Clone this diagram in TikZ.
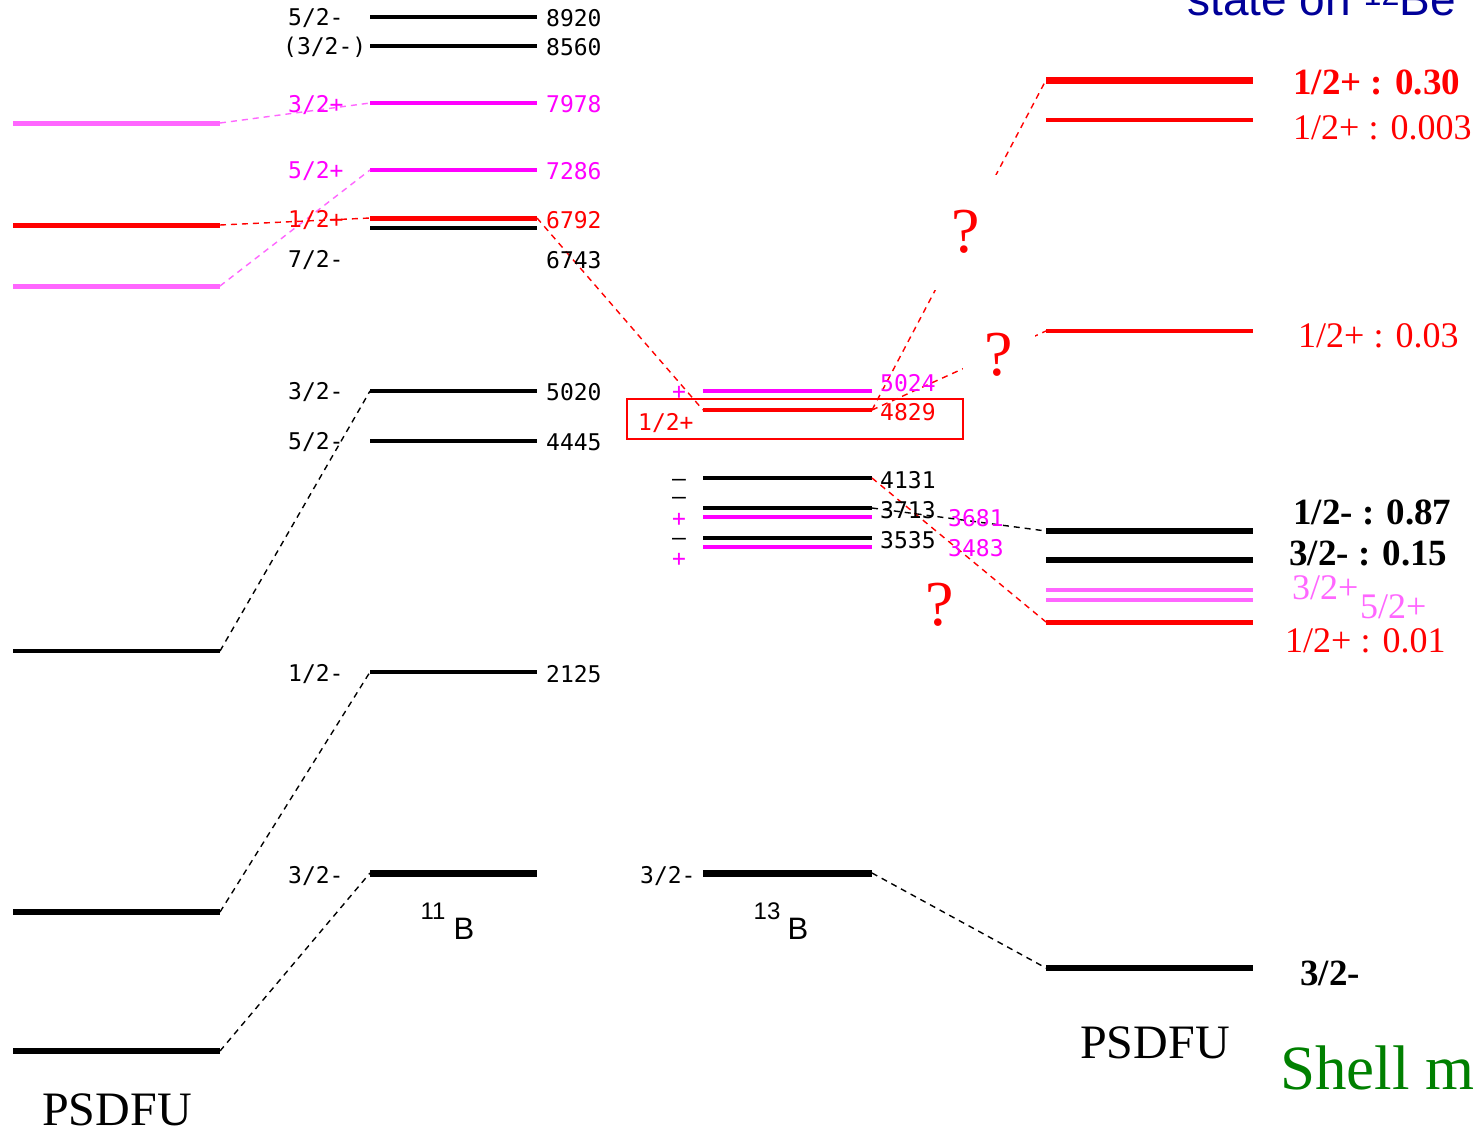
\documentclass[tikz,border=0pt]{standalone}
\usepackage{fontspec}
\setmainfont{Liberation Serif}
\newfontfamily\pixfont{DejaVu Sans Mono}
\newfontfamily\arialfont{Liberation Sans}
\definecolor{lmag}{HTML}{FF66FF}
\definecolor{mag}{HTML}{FF00FF}
\definecolor{navy}{HTML}{000099}
\definecolor{sgreen}{HTML}{008000}
\newcommand\lev[5]{\draw[#5] (#2,#4) coordinate (#1w) -- (#3,#4) coordinate (#1e);}
\begin{document}
\begin{tikzpicture}[x=1pt,y=-1pt,
  lv/.style={line width=4pt},
  conn/.style={line width=1.4pt, dash pattern=on 6pt off 5pt},
  pl/.style={font=\pixfont\fontsize{23}{23}\selectfont, inner sep=0pt},
  plw/.style={pl, anchor=west},
  sgn/.style={pl, text height=13pt, text depth=-1pt},
  tl/.style={font=\fontsize{36}{36}\selectfont, inner sep=0pt, anchor=west},
  tlb/.style={tl, font=\bfseries\fontsize{37}{37}\selectfont},
  qm/.style={font=\fontsize{64}{64}\selectfont, text=red, fill=white, inner sep=0pt},
]
\useasboundingbox (0,0) rectangle (1479,1133);
\clip (0,0) rectangle (1479,1133);
\fill[white] (0,0) rectangle (1479,1133);

% ---------- levels ----------
% left PSDFU column levels
\lev{pa}{13}{220}{123}{lmag,line width=5pt}
\lev{pb}{13}{220}{225}{red,line width=5pt}
\lev{pc}{13}{220}{286}{lmag,line width=5pt}
\lev{pd}{13}{220}{651}{line width=4pt}
\lev{pe}{13}{220}{912}{line width=6pt}
\lev{pf}{13}{220}{1051}{line width=6pt}

% 11B levels
\lev{ba}{370}{537}{17}{lv}
\lev{bb}{370}{537}{46}{lv}
\lev{bc}{370}{537}{103}{lv,mag}
\lev{bd}{370}{537}{170}{lv,mag}
\lev{be}{370}{537}{218}{red,line width=5pt}
\lev{bf}{370}{537}{228}{lv}
\lev{bg}{370}{537}{391}{lv}
\lev{bh}{370}{537}{441}{lv}
\lev{bi}{370}{537}{672}{lv}
\lev{bj}{370}{537}{873}{line width=7pt}

% 13B levels
\lev{ca}{703}{872}{391}{lv,mag}
\lev{cb}{703}{872}{410}{red,line width=4pt}
\lev{cc}{703}{872}{478}{lv}
\lev{cd}{703}{872}{508}{lv}
\lev{ce}{703}{872}{517}{lv,mag}
\lev{cf}{703}{872}{538}{lv}
\lev{cg}{703}{872}{547}{lv,mag}
\lev{ch}{703}{872}{873}{line width=7pt}

% right PSDFU levels
\lev{ra}{1046}{1253}{80}{red,line width=7pt}
\lev{rb}{1046}{1253}{120}{red,line width=4pt}
\lev{rc}{1046}{1253}{331}{red,line width=4pt}
\lev{rd}{1046}{1253}{531}{line width=6pt}
\lev{re}{1046}{1253}{560}{line width=6pt}
\lev{rf}{1046}{1253}{590}{lmag,line width=4pt}
\lev{rg}{1046}{1253}{600}{lmag,line width=4pt}
\lev{rh}{1046}{1253}{622}{red,line width=5pt}
\lev{ri}{1046}{1253}{968}{line width=6pt}

% dashed correlation lines
\draw[conn,lmag] (pae) -- (bcw);
\draw[conn,lmag] (pce) -- (bdw);
\draw[conn,red] (pbe) -- (bew);
\draw[conn] (pde) -- (bgw);
\draw[conn] (pee) -- (biw);
\draw[conn] (pfe) -- (bjw);
\draw[conn,red] (bee) -- (cbw);
\draw[conn,red] (cbe) -- (raw);
\draw[conn,red] (cbe) -- (rcw);
\draw[conn] (cde) -- (rdw);
\draw[conn,red] (cce) -- (rhw);
\draw[conn] (che) -- (riw);

% ---------- 11B labels ----------
\node[plw] (l1) at (288,18) {5/2-};
\node[plw] (l2) at (283,47) {(3/2-)};
\node[plw,text=mag] (l3) at (288,105) {3/2+};
\node[plw,text=mag] (l4) at (288,171) {5/2+};
\node[plw,text=red] (l5) at (288,220) {1/2+};
\node[plw] (l6) at (288,260) {7/2-};
\node[plw] (l7) at (288,392) {3/2-};
\node[plw] (l8) at (288,442) {5/2-};
\node[plw] (l9) at (288,674) {1/2-};
\node[plw] (l10) at (288,876) {3/2-};
\node[plw] (e1) at (546,18) {8920};
\node[plw] (e2) at (546,47) {8560};
\node[plw,text=mag] (e3) at (546,104) {7978};
\node[plw,text=mag] (e4) at (546,171) {7286};
\node[plw,text=red] (e5) at (546,220) {6792};
\node[plw] (e6) at (546,260) {6743};
\node[plw] (e7) at (546,392) {5020};
\node[plw] (e8) at (546,442) {4445};
\node[plw] (e9) at (546,674) {2125};
\node[font=\arialfont\fontsize{24}{24}\selectfont, inner sep=0pt] (b11n) at (433,911) {11};
\node[font=\arialfont\fontsize{31}{31}\selectfont, inner sep=0pt] (b11b) at (464,929) {B};

% ---------- 13B labels ----------
\draw[red, line width=1.5pt] (627,399) rectangle (963,439);
\node[plw,text=red] (m1) at (638,423) {1/2+};
\node[sgn,text=mag] (s1) at (679,393) {+};
\node[pl, anchor=base, align=center, font=\pixfont\fontsize{23}{18}\selectfont] (sg) at (679,566)
  {–\\–\\[4pt]\textcolor{mag}{+}\\[1pt]–\\[3pt]\textcolor{mag}{+}};
\node[plw] (m2) at (640,876) {3/2-};
\node[plw,text=mag] (f1) at (880,383) {5024};
\node[plw,text=red] (f2) at (880,412) {4829};
\node[plw] (f3) at (880,480) {4131};
\node[plw] (f4) at (880,510) {3713};
\node[plw,text=mag] (f5) at (948,518) {3681};
\node[plw] (f6) at (880,540) {3535};
\node[plw,text=mag] (f7) at (948,548) {3483};
\node[font=\arialfont\fontsize{24}{24}\selectfont, inner sep=0pt] (b13n) at (767,911) {13};
\node[font=\arialfont\fontsize{31}{31}\selectfont, inner sep=0pt] (b13b) at (798,929) {B};

% ---------- question marks ----------
\node[qm, minimum width=70pt, minimum height=115pt] (q1) at (966,232) {?};
\node[qm, minimum width=72pt, minimum height=60pt] (q2) at (999,355) {?};
\node[qm] (q3) at (940,605) {?};

% ---------- right labels ----------
\node[tlb,text=red] (r1) at (1293,82) {1/2+ : 0.30};
\node[tl,text=red] (r2) at (1293,128) {1/2+ : 0.003};
\node[tl,text=red] (r3) at (1298,336) {1/2+ : 0.03};
\node[tlb] (r4) at (1293,512) {1/2- : 0.87};
\node[tlb] (r5) at (1289,553) {3/2- : 0.15};
\node[tl,text=lmag] (r6) at (1292,588) {3/2+};
\node[tl,text=lmag] (r7) at (1360,607) {5/2+};
\node[tl,text=red] (r8) at (1285,641) {1/2+ : 0.01};
\node[tlb] (r9) at (1300,973) {3/2-};

% ---------- titles ----------
\node[font=\fontsize{48}{48}\selectfont, inner sep=0pt] (psl) at (117,1110) {PSDFU};
\node[font=\fontsize{48}{48}\selectfont, inner sep=0pt] (psr) at (1155,1043) {PSDFU};
\node[anchor=base west, inner sep=0pt, text=sgreen, font=\fontsize{63}{63}\selectfont] (sm) at (1280,1089) {Shell m};
\node[anchor=base west, inner sep=0pt, text=navy, font=\arialfont\fontsize{46}{46}\selectfont] (st) at (1187,15) {state on \textsuperscript{12}Be};
\end{tikzpicture}
\end{document}
